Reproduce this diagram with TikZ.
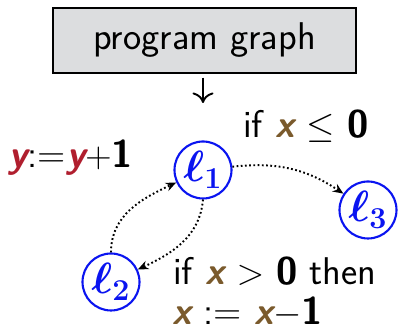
\documentclass[tikz,border=0pt]{standalone}
\usepackage{tikz}
\usetikzlibrary{arrows.meta}
\definecolor{boxgray}{HTML}{DCDDDF}
\definecolor{locblue}{HTML}{0A14F0}
\definecolor{varbrown}{HTML}{7A5A2C}
\definecolor{varred}{HTML}{B01E2E}
\newcommand{\varx}{\textcolor{varbrown}{\bfseries\slshape x}}
\newcommand{\vary}{\textcolor{varred}{\bfseries\slshape y}}
\newcommand{\loc}[1]{\textcolor{locblue}{\fontsize{25}{30}\selectfont\boldmath$\ell_{#1}$}}
\tikzset{
  locnode/.style={circle,draw=locblue,line width=1.2pt,minimum size=1.14cm,inner sep=0pt},
  trans/.style={line width=1.1pt,dash pattern=on 1pt off 1.4pt,-{Stealth[length=6pt,width=5pt]}},
  guard/.style={anchor=base west,inner sep=0pt,text depth=0pt}
}

\begin{document}
\begin{tikzpicture}[font=\fontsize{22}{26}\selectfont\sffamily]
    \useasboundingbox (0,0) rectangle (7.96,6.62);
    \node[draw,fill=boxgray,line width=1.2pt,minimum width=6.06cm,minimum height=1.3cm] (pg) at (4.09,5.81) {program graph};
    \coordinate (down) at (4.06,4.56);
    \draw[line width=1.1pt,-{To[length=6pt,width=12pt]},shorten <=2pt] (pg.south -| down) -- (down);
    \node[locnode] (l1) at (4.06,3.22) {\loc{1}};
    \node[locnode] (l2) at (2.22,0.98) {\loc{2}};
    \node[locnode] (l3) at (7.36,2.42) {\loc{3}};
    \draw[trans] (l1) to[bend left=20] (l3);
    \draw[trans] (l1.south) to[out=-95,in=25] (l2);
    \draw[trans] (l2.north) to[out=90,in=205] (l1);
    \node[guard] (g3) at (4.86,3.86) {if \varx{} $\leq$ \textbf{0}};
    \node[guard] (a2) at (0.16,3.26) {\vary:=\vary$+$\textbf{1}};
    \node[guard] (g2) at (3.46,0.92) {if \varx{} $>$ \textbf{0} then};
    \node[guard] (a1) at (3.44,0.12) {\varx{} := \varx$-$\textbf{1}};
  \end{tikzpicture}
\end{document}
